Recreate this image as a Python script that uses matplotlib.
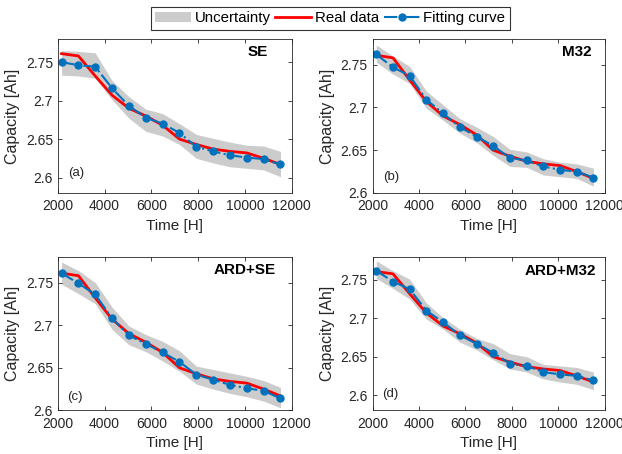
"""
plot.py — Capacity fade: GPR fits with four kernels vs. measured data.

Produces out.png : 2x2 panels (SE, M32, ARD+SE, ARD+M32) with the
uncertainty band, the real capacity data and the fitted curve.
"""
import matplotlib
matplotlib.use("Agg")
import matplotlib.pyplot as plt
from matplotlib.patches import Patch
from matplotlib.lines import Line2D

plt.rcParams["font.family"] = ["Liberation Sans", "DejaVu Sans"]

# ── Data ───────────────────────────────────────────────────────────────────────
time_h = [2160, 2880, 3600, 4320, 5040, 5760, 6480,
          7200, 7920, 8640, 9360, 10080, 10800, 11520]

real_cap = [2.761, 2.758, 2.732, 2.707, 2.690, 2.680, 2.668,
            2.650, 2.643, 2.637, 2.634, 2.632, 2.625, 2.617]

kernels = ["SE", "M32", "ARD+SE", "ARD+M32"]
panel_tags = ["(a)", "(b)", "(c)", "(d)"]

fit_se = [2.750, 2.746, 2.744, 2.716, 2.693, 2.678, 2.670,
          2.658, 2.640, 2.634, 2.629, 2.626, 2.624, 2.617]
up_se = [2.765, 2.764, 2.762, 2.726, 2.705, 2.689, 2.683,
         2.670, 2.656, 2.651, 2.646, 2.642, 2.641, 2.634]
lo_se = [2.733, 2.732, 2.729, 2.701, 2.677, 2.660, 2.654,
         2.643, 2.625, 2.619, 2.614, 2.612, 2.610, 2.601]

fit_m32 = [2.762, 2.747, 2.737, 2.709, 2.693, 2.677, 2.666,
           2.655, 2.641, 2.638, 2.631, 2.627, 2.625, 2.618]
up_m32 = [2.773, 2.760, 2.748, 2.719, 2.703, 2.687, 2.677,
          2.666, 2.651, 2.648, 2.640, 2.636, 2.634, 2.629]
lo_m32 = [2.753, 2.739, 2.728, 2.699, 2.685, 2.670, 2.659,
          2.644, 2.631, 2.630, 2.621, 2.619, 2.617, 2.608]

fit_ardse = [2.761, 2.749, 2.736, 2.708, 2.688, 2.678, 2.668,
             2.657, 2.642, 2.636, 2.630, 2.626, 2.623, 2.614]
up_ardse = [2.774, 2.764, 2.750, 2.721, 2.699, 2.689, 2.681,
            2.670, 2.652, 2.648, 2.644, 2.640, 2.635, 2.627]
lo_ardse = [2.748, 2.737, 2.725, 2.695, 2.677, 2.669, 2.658,
            2.646, 2.631, 2.625, 2.620, 2.616, 2.611, 2.603]

fit_ardm32 = [2.762, 2.748, 2.738, 2.710, 2.695, 2.678, 2.667,
              2.655, 2.641, 2.638, 2.630, 2.627, 2.625, 2.619]
up_ardm32 = [2.775, 2.762, 2.751, 2.720, 2.701, 2.686, 2.674,
             2.667, 2.654, 2.650, 2.640, 2.638, 2.636, 2.630]
lo_ardm32 = [2.752, 2.739, 2.725, 2.699, 2.686, 2.669, 2.659,
             2.646, 2.634, 2.630, 2.621, 2.617, 2.614, 2.607]

fits = [fit_se, fit_m32, fit_ardse, fit_ardm32]
uppers = [up_se, up_m32, up_ardse, up_ardm32]
lowers = [lo_se, lo_m32, lo_ardse, lo_ardm32]

ylims = [(2.58, 2.78), (2.60, 2.78), (2.60, 2.78), (2.58, 2.78)]
xticks = [2000, 4000, 6000, 8000, 10000, 12000]
yticks = [2.6, 2.65, 2.7, 2.75]
ytick_labels = ["2.6", "2.65", "2.7", "2.75"]

# ── Style ──────────────────────────────────────────────────────────────────────
GREY_BAND = "#cccccc"
RED = "#ff0000"
BLUE = "#0072bd"
AXCOL = "#262626"

# axes rectangles in figure fraction (left, bottom, width, height)
rects = [(0.093, 0.575, 0.376, 0.339),
         (0.599, 0.575, 0.373, 0.339),
         (0.093, 0.096, 0.376, 0.338),
         (0.599, 0.096, 0.373, 0.338)]
label_pos = [(0.81, 0.915), (0.815, 0.915), (0.665, 0.912), (0.655, 0.91)]
tag_pos = [(0.045, 0.13), (0.045, 0.106), (0.04, 0.087), (0.04, 0.104)]

fig = plt.figure(figsize=(6.22, 4.54), dpi=100)

for k in range(4):
    ax = fig.add_axes(rects[k])
    ax.fill_between(time_h, lowers[k], uppers[k], color=GREY_BAND, lw=0)
    ax.plot(time_h, real_cap, color=RED, lw=2)
    ax.plot(time_h, fits[k], color=BLUE, lw=1.5, ls="-.",
            marker="o", ms=5, mfc=BLUE, mec=BLUE)

    ax.set_xlim(2000, 12000)
    ax.set_ylim(*ylims[k])
    ax.set_xticks(xticks)
    ax.set_yticks(yticks)
    ax.set_yticklabels(ytick_labels)
    ax.tick_params(direction="in", top=True, right=True, length=3,
                   width=0.6, colors=AXCOL, labelsize=10)
    ax.tick_params(axis="x", pad=4.5)
    for sp in ax.spines.values():
        sp.set_color(AXCOL)
        sp.set_linewidth(0.6)

    ax.set_xlabel("Time [H]", fontsize=11, color=AXCOL, labelpad=4)
    ax.set_ylabel("Capacity [Ah]", fontsize=11.5, color=AXCOL, labelpad=4)

    ax.text(*label_pos[k], kernels[k], transform=ax.transAxes,
            fontsize=11, fontweight="bold", ha="left", va="center")
    ax.text(*tag_pos[k], panel_tags[k], transform=ax.transAxes,
            fontsize=9.5, color=AXCOL, ha="left", va="center")

# ── Shared legend ──────────────────────────────────────────────────────────────
handles = [Patch(facecolor=GREY_BAND, edgecolor="none"),
           Line2D([], [], color=RED, lw=2),
           Line2D([], [], color=BLUE, lw=1.5, ls="-.", marker="o",
                  ms=5, mfc=BLUE, mec=BLUE)]
leg = fig.legend(handles, ["Uncertainty", "Real data", "Fitting curve"],
                 loc="center", bbox_to_anchor=(0.531, 0.96), ncol=3,
                 fontsize=10.8, frameon=True, fancybox=False,
                 handlelength=2.4, handletextpad=0.25, columnspacing=0.3,
                 borderpad=0.3, borderaxespad=0)
leg.get_frame().set_edgecolor("black")
leg.get_frame().set_linewidth(0.8)

fig.savefig("out.png", dpi=100)
